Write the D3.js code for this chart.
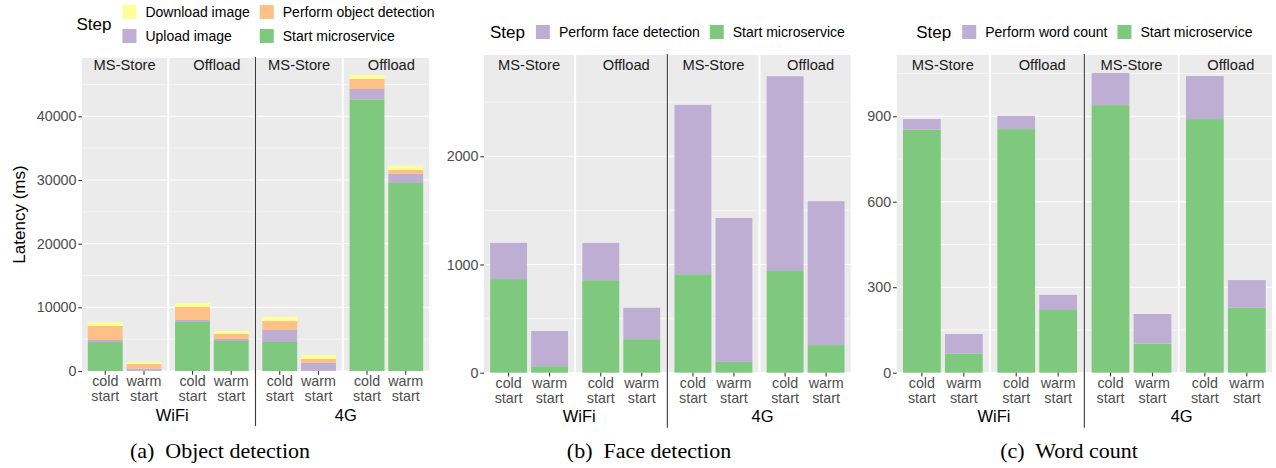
<!doctype html>
<html lang="en">
<head>
<meta charset="utf-8">
<title>Latency per step</title>
<script src="https://cdn.jsdelivr.net/npm/d3@7"></script>
<style>
  body { margin: 0; background: #fff; }
  svg { display: block; font-family: "Liberation Sans", Arial, Helvetica, sans-serif; }
  .tick-label { fill: #4d4d4d; font-size: 14.3px; }
  .strip { fill: #1a1a1a; font-size: 14.7px; }
  .net { fill: #000; font-size: 16.5px; }
  .legend-title { font-size: 17px; }
  .legend-text { font-size: 14px; }
  .ylab { font-size: 17px; }
  .caption { font-family: "Liberation Serif", "Times New Roman", serif; font-size: 22px; }
</style>
</head>
<body>
<div id="viz"></div>
<script>
// DATA
var networks = ["WiFi", "4G"];
var modes = ["MS-Store", "Offload"];
var starts = ["cold start", "warm start"];

// bar order: WiFi/MS-Store cold, warm | WiFi/Offload cold, warm | 4G/MS-Store cold, warm | 4G/Offload cold, warm
// (a) object detection
var objStart    = [4550, 20, 7700, 4710, 4555, 20, 42670, 29530];
var objUpload   = [320, 340, 310, 315, 1885, 1240, 1620, 1460];
var objDetect   = [2200, 740, 2040, 785, 1410, 630, 1570, 580];
var objDownload = [630, 365, 630, 470, 630, 630, 630, 680];
var objTicks = [0, 10000, 20000, 30000, 40000];

// (b) face detection
var faceStart  = [865, 60, 855, 310, 910, 100, 940, 255];
var faceDetect = [335, 325, 345, 290, 1565, 1330, 1800, 1330];
var faceTicks = [0, 1000, 2000];

// (c) word count
var wordStart = [853, 67, 855, 220, 939, 102, 890, 228];
var wordCount = [37, 69, 46, 53, 113, 104, 151, 97];
var wordTicks = [0, 300, 600, 900];

// COLORS (ColorBrewer Accent)
var stepColor = {
  "Download image": "#FFFF99",
  "Perform object detection": "#FDC086",
  "Upload image": "#BEAED4",
  "Start microservice": "#7FC97F",
  "Perform face detection": "#BEAED4",
  "Perform word count": "#BEAED4"
};

// PANELS (stack keys bottom -> top, legend in display order)
var panels = [
  { keys: ["Start microservice", "Upload image", "Perform object detection", "Download image"],
    values: [objStart, objUpload, objDetect, objDownload],
    legend: ["Download image", "Perform object detection", "Upload image", "Start microservice"],
    legendRows: 2, legendTop: 5,
    ticks: objTicks, yMax: 49160,
    left: 82, right: 429, top: 58, bottom: 371,
    yLabel: "Latency (ms)", caption: "(a)  Object detection", captionX: 220 },
  { keys: ["Start microservice", "Perform face detection"],
    values: [faceStart, faceDetect],
    legend: ["Perform face detection", "Start microservice"],
    legendRows: 1, legendTop: 25,
    ticks: faceTicks, yMax: 2936,
    left: 484, right: 850.7, top: 55, bottom: 372.7,
    caption: "(b)  Face detection", captionX: 649 },
  { keys: ["Start microservice", "Perform word count"],
    values: [wordStart, wordCount],
    legend: ["Perform word count", "Start microservice"],
    legendRows: 1, legendTop: 25,
    ticks: wordTicks, yMax: 1115,
    left: 896.7, right: 1272, top: 55, bottom: 372.7,
    caption: "(c)  Word count", captionX: 1069 }
];

var w = 1276, h = 468;
var svg = d3.select("#viz").append("svg")
  .attr("width", w).attr("height", h)
  .attr("viewBox", "0 0 " + w + " " + h);

var facetKeys = [];
networks.forEach(function(n) { modes.forEach(function(m) { facetKeys.push(n + "|" + m); }); });

panels.forEach(function(p) {
  var g = svg.append("g");
  var gap = 2;
  var width = p.right - p.left;

  var y = d3.scaleLinear().domain([0, p.yMax]).range([p.bottom, p.top]);
  var fx = d3.scaleBand().domain(facetKeys).range([p.left, p.right])
    .paddingInner(4 * gap / (width + gap)).paddingOuter(0);
  var bx = d3.scaleBand().domain(starts).range([0, fx.bandwidth()])
    .paddingInner(0.1).paddingOuter(0.15);

  var step = p.ticks[1] - p.ticks[0];
  var minor = p.ticks.map(function(t) { return t + step / 2; })
    .filter(function(t) { return t < p.yMax; });

  // table for the stack
  var rows = d3.range(8).map(function(i) {
    var r = { facet: networks[Math.floor(i / 4)] + "|" + modes[Math.floor(i / 2) % 2], start: starts[i % 2] };
    p.keys.forEach(function(k, j) { r[k] = p.values[j][i]; });
    return r;
  });
  var series = d3.stack().keys(p.keys)(rows);

  // facet backgrounds + grid
  facetKeys.forEach(function(f) {
    var x0 = fx(f), x1 = fx(f) + fx.bandwidth();
    g.append("rect").attr("x", x0).attr("y", p.top)
      .attr("width", fx.bandwidth()).attr("height", p.bottom - p.top)
      .attr("fill", "#EBEBEB");
    g.selectAll(null).data(minor).enter().append("line")
      .attr("x1", x0).attr("x2", x1)
      .attr("y1", function(d) { return y(d); }).attr("y2", function(d) { return y(d); })
      .attr("stroke", "#fff").attr("stroke-width", 0.55);
    g.selectAll(null).data(p.ticks).enter().append("line")
      .attr("x1", x0).attr("x2", x1)
      .attr("y1", function(d) { return y(d); }).attr("y2", function(d) { return y(d); })
      .attr("stroke", "#fff").attr("stroke-width", 1.1);
  });

  // bars
  series.forEach(function(s) {
    g.selectAll(null).data(s).enter().append("rect")
      .attr("x", function(d) { return fx(d.data.facet) + bx(d.data.start); })
      .attr("y", function(d) { return y(d[1]); })
      .attr("width", bx.bandwidth())
      .attr("height", function(d) { return y(d[0]) - y(d[1]); })
      .attr("fill", stepColor[s.key]);
  });

  // strip labels
  facetKeys.forEach(function(f) {
    var m = f.split("|")[1];
    g.append("text").attr("class", "strip")
      .attr("x", fx(f) + fx.bandwidth() / 2 + (m === "Offload" ? 5 : 0))
      .attr("y", 70)
      .attr("text-anchor", "middle")
      .text(m);
  });

  // y axis
  var yAxis = g.append("g")
    .attr("transform", "translate(" + p.left + ",0)")
    .call(d3.axisLeft(y).tickValues(p.ticks).tickSize(3.7).tickPadding(1.8).tickFormat(d3.format("d")));
  yAxis.select(".domain").remove();
  yAxis.selectAll(".tick line").attr("stroke", "#333").attr("stroke-width", 1.07);
  yAxis.selectAll(".tick text").attr("class", "tick-label").attr("font-size", null)
    .attr("font-family", null).attr("fill", null);

  // x axis per facet
  facetKeys.forEach(function(f) {
    var xa = g.append("g")
      .attr("transform", "translate(" + fx(f) + "," + p.bottom + ")")
      .call(d3.axisBottom(bx).tickSize(3.7).tickFormat(""));
    xa.select(".domain").remove();
    xa.selectAll(".tick line").attr("stroke", "#333").attr("stroke-width", 1.07);
    xa.selectAll(".tick").each(function(d) {
      var parts = d.split(" ");
      var t = d3.select(this).append("text").attr("class", "tick-label")
        .attr("text-anchor", "middle");
      t.append("tspan").attr("x", 0).attr("y", 15.3).text(parts[0]);
      t.append("tspan").attr("x", 0).attr("y", 30).text(parts[1]);
    });
  });

  // network labels
  networks.forEach(function(n, i) {
    var a = fx(n + "|" + modes[0]), b = fx(n + "|" + modes[1]) + fx.bandwidth();
    g.append("text").attr("class", "net")
      .attr("x", (a + b) / 2 + (i === 0 ? 4 : 3))
      .attr("y", p.bottom + 49.5)
      .attr("text-anchor", "middle")
      .text(n);
  });

  // separator between WiFi and 4G
  var sx = (fx(facetKeys[1]) + fx.bandwidth() + fx(facetKeys[2])) / 2;
  g.append("line")
    .attr("x1", sx).attr("x2", sx)
    .attr("y1", p.top - 1).attr("y2", p.bottom + 55)
    .attr("stroke", "#3a3a3a").attr("stroke-width", 1.1);

  // y label
  if (p.yLabel) {
    g.append("text").attr("class", "ylab")
      .attr("transform", "translate(24.5," + (p.top + p.bottom) / 2 + ") rotate(-90)")
      .attr("text-anchor", "middle")
      .text(p.yLabel);
  }

  // LEGEND
  var lg = svg.append("g");
  var title = lg.append("text").attr("class", "legend-title").text("Step");
  var tw = title.node().getComputedTextLength();
  var nrow = p.legendRows, ncol = Math.ceil(p.legend.length / nrow);
  var keySize = 14, rowH = 24;
  var items = p.legend.map(function(name, i) {
    var t = lg.append("text").attr("class", "legend-text").text(name);
    return { name: name, row: Math.floor(i / ncol), col: i % ncol, node: t, w: t.node().getComputedTextLength() };
  });
  var colX = [], cx = tw + 11;
  for (var c = 0; c < ncol; c++) {
    colX[c] = cx;
    var cw = d3.max(items.filter(function(it) { return it.col === c; }), function(it) { return it.w; });
    cx += keySize + 9 + cw + 10;
  }
  items.forEach(function(it) {
    var ky = it.row * rowH;
    lg.append("rect").attr("x", colX[it.col]).attr("y", ky)
      .attr("width", keySize).attr("height", keySize)
      .attr("fill", stepColor[it.name]);
    it.node.attr("x", colX[it.col] + keySize + 9).attr("y", ky + keySize / 2 + 5);
  });
  title.attr("x", 0).attr("y", (nrow * rowH - 10) / 2 + 6);
  var lw = cx - 10;
  lg.attr("transform", "translate(" + ((p.left + p.right) / 2 - lw / 2) + "," + p.legendTop + ")");

  // caption
  svg.append("text").attr("class", "caption")
    .attr("x", p.captionX).attr("y", 458)
    .attr("text-anchor", "middle")
    .attr("xml:space", "preserve")
    .style("white-space", "pre")
    .text(p.caption);
});
</script>
</body>
</html>
